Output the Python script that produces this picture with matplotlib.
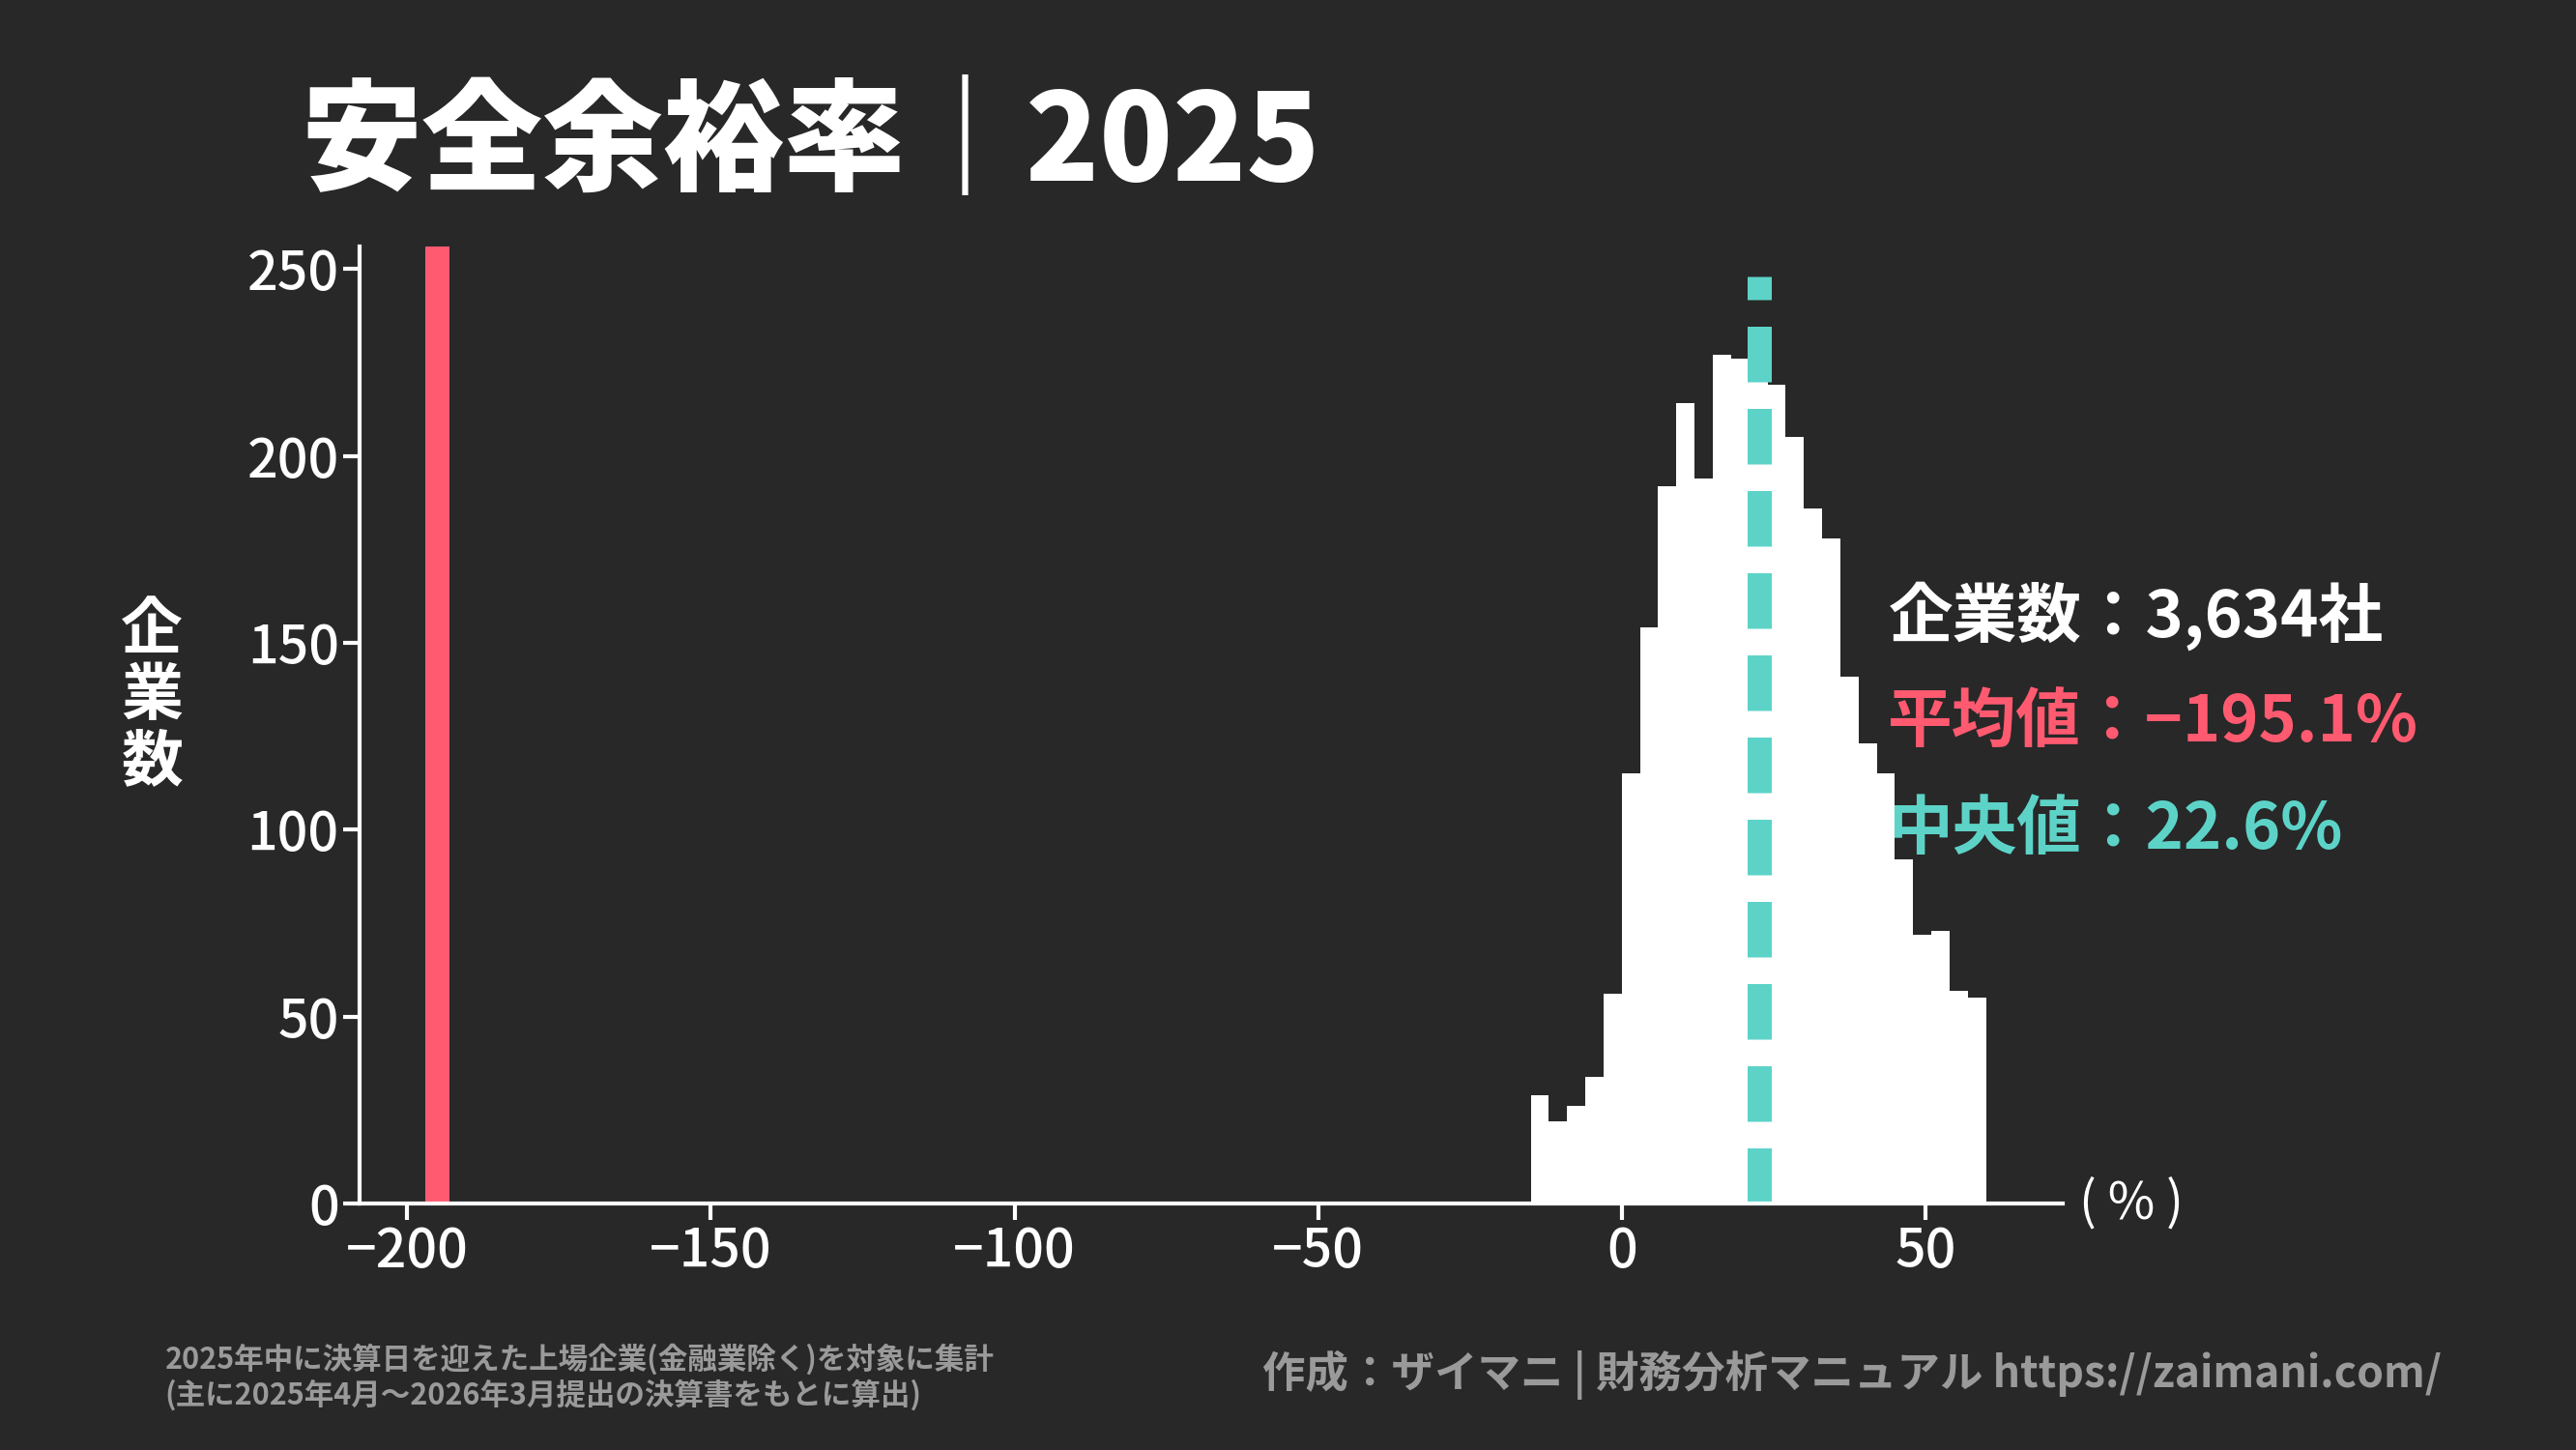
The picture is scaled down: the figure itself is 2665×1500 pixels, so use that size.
import matplotlib
matplotlib.use("Agg")
import matplotlib.pyplot as plt
import numpy as np

plt.rcParams['font.family'] = ['Noto Sans CJK JP', 'DejaVu Sans']

bin_edges = np.arange(-15, 61, 3)
counts = [29, 22, 26, 34, 56, 115, 154, 192, 214, 194, 227, 226, 227, 219, 205,
          186, 178, 141, 123, 115, 92, 72, 73, 57, 55]
mean_val = -195.1
median_val = 22.6
n_companies = "3,634"
xticks = [-200, -150, -100, -50, 0, 50]
yticks = [0, 50, 100, 150, 200, 250]

BG = '#282828'
RED = '#FF5A70'
TEAL = '#5DD3C8'

fig = plt.figure(figsize=(26.65, 15), dpi=100, facecolor=BG)
ax = fig.add_axes([0.1397, 0.170, 0.661, 0.660], facecolor=BG)

ax.stairs(counts, bin_edges, fill=True, color='white', lw=0)
ax.axvline(mean_val, color=RED, lw=18, ymax=1.0)
ax.axvline(median_val, ymax=248/256, color=TEAL, lw=18, dashes=(2.3, 1.1))

ax.set_xlim(-207.8, 72.6)
ax.set_ylim(0, 256)
ax.set_xticks(xticks)
ax.set_xticklabels([str(t).replace('-', '−') for t in xticks])
ax.set_yticks(yticks)
for s in ['top', 'right']:
    ax.spines[s].set_visible(False)
for s in ['left', 'bottom']:
    ax.spines[s].set_color('white')
    ax.spines[s].set_linewidth(3)
ax.tick_params(colors='white', labelsize=40, width=3, length=12)
for lab in ax.get_xticklabels() + ax.get_yticklabels():
    lab.set_fontweight('medium')

ax.text(1.01, 0.0, '( % )', transform=ax.transAxes, color='white', fontsize=38,
        va='center', ha='left')
fig.text(0.059, 0.52, '企\n業\n数', color='white', fontsize=46, fontweight='bold',
         ha='center', va='center', linespacing=1.05)

fig.text(0.117, 0.90, '安全余裕率｜2025', color='white', fontsize=90, fontweight='black',
         ha='left', va='center')

tx = 0.733
fig.text(tx, 0.575, f'企業数：{n_companies}社', color='white', fontsize=48, fontweight='bold', va='center')
fig.text(tx, 0.502, f'平均値：{mean_val}%'.replace('-', '−'), color=RED, fontsize=48, fontweight='bold', va='center')
fig.text(tx, 0.428, f'中央値：{median_val}%', color=TEAL, fontsize=48, fontweight='bold', va='center')

fig.text(0.064, 0.050, '2025年中に決算日を迎えた上場企業(金融業除く)を対象に集計\n(主に2025年4月〜2026年3月提出の決算書をもとに算出)',
         color='#9A9A9A', fontsize=22, fontweight='bold', ha='left', va='center', linespacing=1.2)
fig.text(0.948, 0.052, '作成：ザイマニ | 財務分析マニュアル https://zaimani.com/', color='#9A9A9A',
         fontsize=32, fontweight='bold', ha='right', va='center')

fig.savefig('out.png', dpi=100, facecolor=BG)
